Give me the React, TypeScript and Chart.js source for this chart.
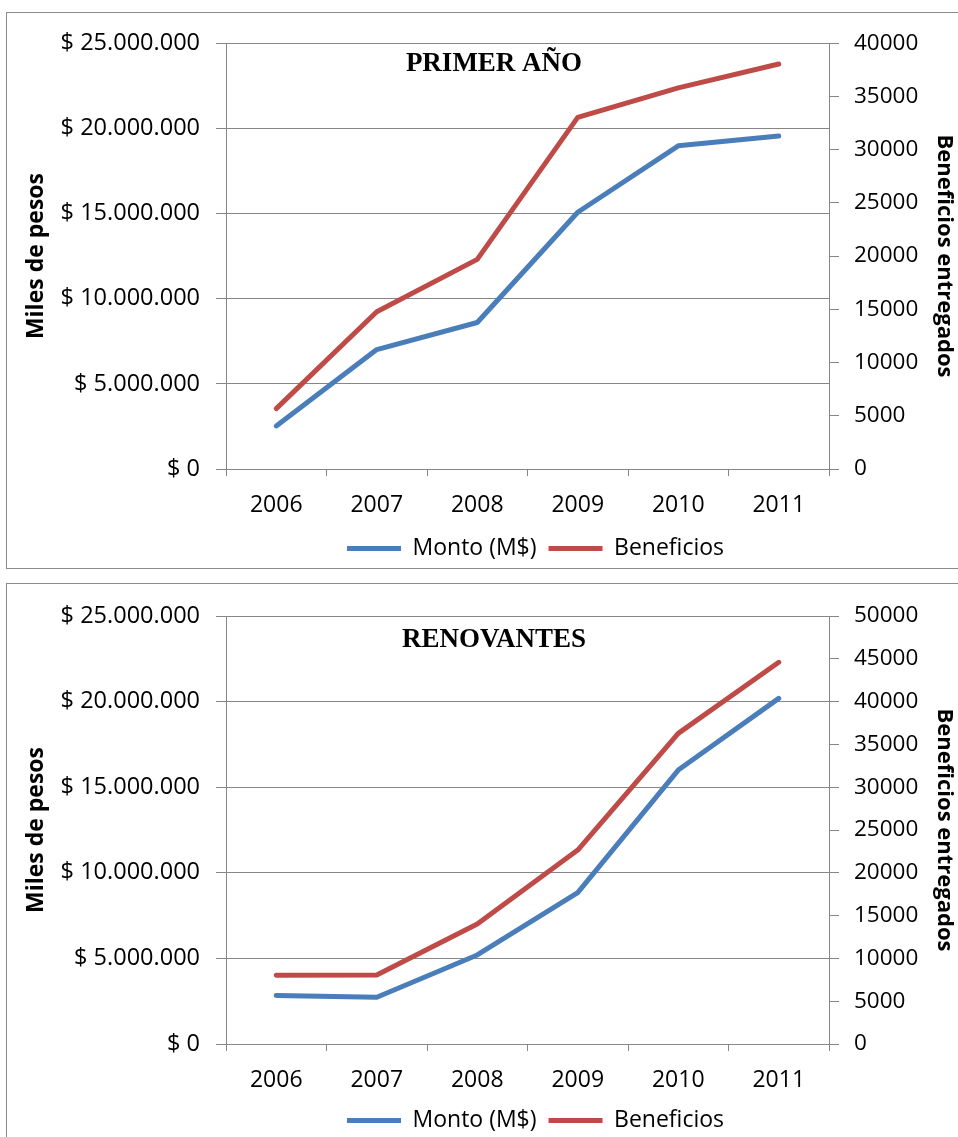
import React, { useEffect, useRef } from "react";
import { Chart, registerables } from "chart.js";

Chart.register(...registerables);

const years = ["2006", "2007", "2008", "2009", "2010", "2011"];

const primerMonto = [2530000, 7010000, 8600000, 15070000, 18970000, 19550000];
const primerBeneficios = [5670, 14770, 19690, 33020, 35790, 38040];

const renovMonto = [2840000, 2730000, 5200000, 8840000, 16000000, 20190000];
const renovBeneficios = [8020, 8060, 14020, 22660, 36290, 44590];

const leftTicksMax = 25000000;
const leftTicksStep = 5000000;
const primerRightMax = 40000;
const renovRightMax = 50000;
const rightStep = 5000;

const seriesNames = ["Monto (M$)", "Beneficios"];
const leftTitle = "Miles de pesos";
const rightTitle = "Beneficios entregados";

const BLUE = "#4A7EBB";
const RED = "#BE4B48";
const GRID = "#868686";
const FONT = "'Open Sans'";

function fmtPesos(v: number): string {
  if (v === 0) return "$ 0";
  const s = Math.round(v).toString().replace(/\B(?=(\d{3})+(?!\d))/g, ".");
  return "$ " + s;
}

const titlePlugin = {
  id: "innerTitle",
  afterLayout(chart: any, _args: any, opts: any) {
    const lg = chart.legend;
    if (lg && opts.legendDx) {
      lg.left += opts.legendDx;
      lg.right += opts.legendDx;
    }
  },
  afterDraw(chart: any, _args: any, opts: any) {
    const { ctx, chartArea } = chart;
    ctx.save();
    ctx.font = 'bold 27px "Liberation Serif", "Times New Roman", serif';
    ctx.fillStyle = "#000";
    ctx.textAlign = "center";
    ctx.textBaseline = "alphabetic";
    ctx.fillText(opts.text, chartArea.left + opts.dx, chartArea.top + opts.dy);
    ctx.restore();
  },
};

type Props = {
  title: string;
  monto: number[];
  beneficios: number[];
  rightMax: number;
  padTop: number;
  xHeight: number;
  canvasH: number;
  titleDy: number;
};

function DualChart(p: Props) {
  const ref = useRef<HTMLCanvasElement | null>(null);
  useEffect(() => {
    if (!ref.current) return;
    Chart.defaults.font.family = FONT;
    Chart.defaults.color = "#000";
    const chart = new Chart(ref.current, {
      type: "line",
      data: {
        labels: years,
        datasets: [
          {
            label: seriesNames[0],
            data: p.monto,
            yAxisID: "y",
            borderColor: BLUE,
            backgroundColor: BLUE,
            borderWidth: 5,
            borderCapStyle: "round",
            borderJoinStyle: "round",
            pointRadius: 0,
            tension: 0,
          },
          {
            label: seriesNames[1],
            data: p.beneficios,
            yAxisID: "y1",
            borderColor: RED,
            backgroundColor: RED,
            borderWidth: 5,
            borderCapStyle: "round",
            borderJoinStyle: "round",
            pointRadius: 0,
            tension: 0,
          },
        ],
      },
      options: {
        responsive: false,
        animation: false,
        devicePixelRatio: 1,
        layout: { padding: { top: p.padTop, left: 0, right: 0, bottom: 0 } },
        plugins: {
          legend: {
            position: "bottom",
            fullSize: false,
            labels: {
              usePointStyle: true,
              pointStyle: "line",
              pointStyleWidth: 54,
              padding: 12,
              font: { size: 23, family: FONT },
              color: "#000",
            },
          },
          tooltip: { enabled: false },
          innerTitle: { text: p.title, dx: 268, dy: p.titleDy, legendDx: 8 },
        } as any,
        scales: {
          x: {
            offset: true,
            grid: {
              offset: true,
              drawOnChartArea: false,
              drawTicks: true,
              tickLength: 7,
              color: GRID,
            },
            border: { display: true, color: GRID },
            ticks: { font: { size: 23 }, padding: 16, color: "#000" },
            afterFit: (s: any) => {
              s.height = p.xHeight;
            },
          },
          y: {
            position: "left",
            min: 0,
            max: leftTicksMax,
            ticks: {
              stepSize: leftTicksStep,
              font: { size: 23.5 },
              padding: 16,
              color: "#000",
              callback: (v: any) => fmtPesos(Number(v)),
            },
            grid: { color: GRID, drawTicks: true, tickLength: 10 },
            border: { display: true, color: GRID },
            title: {
              display: true,
              text: leftTitle,
              font: { size: 23, weight: "bold" },
              color: "#000",
              padding: { top: 16, bottom: 0 },
            },
            afterFit: (s: any) => {
              s.width = 219;
            },
          },
          y1: {
            position: "right",
            min: 0,
            max: p.rightMax,
            ticks: {
              stepSize: rightStep,
              font: { size: 22.5 },
              padding: 15,
              color: "#000",
              callback: (v: any) => String(v),
            },
            grid: { drawOnChartArea: false, color: GRID, drawTicks: true, tickLength: 10 },
            border: { display: true, color: GRID },
            title: {
              display: true,
              text: rightTitle,
              font: { size: 22, weight: "bold" },
              color: "#000",
              padding: { top: 1, bottom: 0 },
            },
            afterFit: (s: any) => {
              s.width = 129;
            },
          },
        },
      } as any,
      plugins: [titlePlugin],
    });
    return () => chart.destroy();
  }, []);
  return (
    <canvas
      ref={ref}
      width={951}
      height={p.canvasH}
      style={{ position: "absolute", left: 0, top: 0, width: 951, height: p.canvasH }}
    />
  );
}

export default function App() {
  const boxStyle = (top: number, height: number): React.CSSProperties => ({
    position: "absolute",
    left: 6,
    top,
    width: 1000,
    height,
    border: "1px solid #8c8c8c",
    boxSizing: "border-box",
    background: "#fff",
  });
  return (
    <div
      style={{
        position: "absolute",
        left: 0,
        top: 0,
        width: 958,
        height: 1137,
        overflow: "hidden",
        background: "#fff",
      }}
    >
      <div style={boxStyle(12, 557)}>
        <DualChart
          title="PRIMER AÑO"
          monto={primerMonto}
          beneficios={primerBeneficios}
          rightMax={primerRightMax}
          padTop={28}
          xHeight={56}
          canvasH={557}
          titleDy={28}
        />
      </div>
      <div style={boxStyle(583, 600)}>
        <DualChart
          title="RENOVANTES"
          monto={renovMonto}
          beneficios={renovBeneficios}
          rightMax={renovRightMax}
          padTop={32}
          xHeight={53}
          canvasH={558}
          titleDy={31}
        />
      </div>
    </div>
  );
}
